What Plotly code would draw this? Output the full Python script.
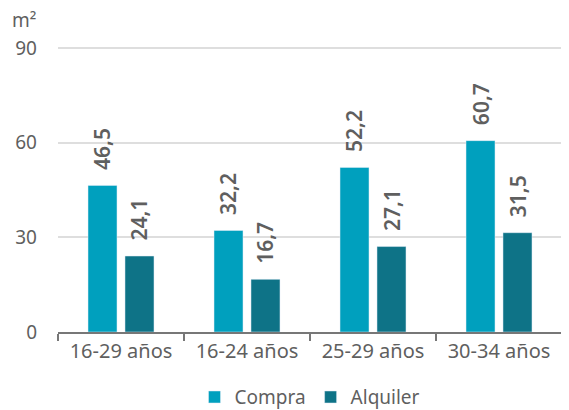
import plotly.graph_objects as go

categories = ["16-29 años", "16-24 años", "25-29 años", "30-34 años"]
compra = [46.5, 32.2, 52.2, 60.7]
alquiler = [24.1, 16.7, 27.1, 31.5]
y_ticks = [0, 30, 60, 90]

font_fam = "Noto Sans"
gray = "#5f5f5f"

def fmt(v):
    return f"{v:.1f}".replace(".", ",")

fig = go.Figure()
series = [("Compra", compra, "#00A0BE", -18.5), ("Alquiler", alquiler, "#0E7387", 18.5)]
annotations = []
for name, vals, col, dx in series:
    fig.add_trace(go.Bar(name=name, x=categories, y=vals, marker_color=col))
    for c, v in zip(categories, vals):
        annotations.append(dict(
            x=c, y=v, xref="x", yref="y", text=fmt(v), textangle=-90,
            xanchor="center", yanchor="bottom", xshift=dx, yshift=13,
            showarrow=False, font=dict(size=21, color=gray, family=font_fam, weight=600),
        ))

annotations.append(dict(text="m²", xref="paper", yref="paper", x=0, y=1.095,
                        xanchor="right", yanchor="middle", xshift=-20, showarrow=False,
                        font=dict(size=19, color=gray)))

fig.update_layout(
    width=561, height=402,
    margin=dict(l=50, r=7, t=39, b=78, autoexpand=False),
    paper_bgcolor="white", plot_bgcolor="white",
    separators=",.",
    barmode="group", bargap=0.413, bargroupgap=0.216,
    font=dict(family=font_fam, color=gray, size=19),
    showlegend=True,
    legend=dict(orientation="h", x=0.5, xanchor="center", yref="container", y=0.032,
                yanchor="middle", font=dict(size=19, color=gray), traceorder="normal"),
    annotations=annotations,
)
fig.update_xaxes(
    showline=True, linecolor="#777777", linewidth=2,
    ticks="outside", tickson="boundaries", ticklen=7, tickcolor="#777777", tickwidth=2,
    tickfont=dict(size=20, color=gray),
)
fig.update_yaxes(
    range=[0, 90.4], tickvals=y_ticks, showgrid=True, gridcolor="#dedede", gridwidth=1.5,
    zeroline=False, ticks="", tickfont=dict(size=19, color=gray), ticklabelstandoff=20,
)

fig.write_html("out.html")
